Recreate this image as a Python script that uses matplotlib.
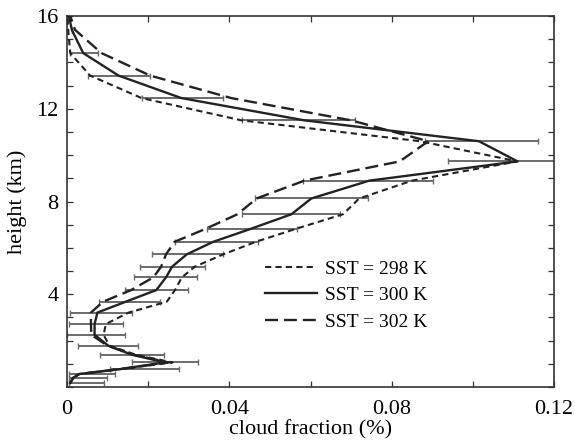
import matplotlib
matplotlib.use("Agg")
import matplotlib.pyplot as plt
from matplotlib.ticker import MultipleLocator, FixedLocator, FuncFormatter

plt.rcParams['font.family'] = ['Liberation Serif', 'DejaVu Serif']

# model levels (km)
height = [0.17, 0.39, 0.56, 0.77, 1.06, 1.39, 1.78, 2.25, 2.72, 3.21, 3.68, 4.18,
          4.73, 5.19, 5.72, 6.26, 6.81, 7.45, 8.13, 8.90, 9.73, 10.6, 11.5, 12.46,
          13.43, 14.4, 15.4, 16.4]

# cloud fraction (%)
cf_298 = [0.0008, 0.0015, 0.0030, 0.0130, 0.0260, 0.0170, 0.0105, 0.0090, 0.0096,
          0.0152, 0.0246, 0.0266, 0.0283, 0.0315, 0.0385, 0.0465, 0.0562, 0.0680,
          0.0720, 0.0850, 0.1110, 0.0870, 0.0430, 0.0184, 0.0057, 0.0008, 0.0003, 0.0]
cf_300 = [0.0008, 0.0015, 0.0030, 0.0130, 0.0242, 0.0160, 0.0102, 0.0068, 0.0068,
          0.0075, 0.0145, 0.0220, 0.0244, 0.0259, 0.0295, 0.0360, 0.0451, 0.0553,
          0.0602, 0.0745, 0.1110, 0.1015, 0.0585, 0.0282, 0.0127, 0.0040, 0.0012, 0.0]
cf_302 = [0.0008, 0.0015, 0.0030, 0.0130, 0.0250, 0.0165, 0.0100, 0.0060, 0.0059,
          0.0059, 0.0089, 0.0158, 0.0213, 0.0232, 0.0244, 0.0265, 0.0340, 0.0420,
          0.0467, 0.0585, 0.0820, 0.0890, 0.0700, 0.0405, 0.0205, 0.0085, 0.0020, 0.0]

# error bar extents for SST = 300 K (lower / upper end)
err_lo = [0.0004, 0.0004, 0.0004, 0.0106, 0.0160, 0.0082, 0.0028, 0.0000, 0.0004,
          0.0008, 0.0078, 0.0143, 0.0164, 0.0180, 0.0209, 0.0265, 0.0345, 0.0431,
          0.0463, 0.0582, 0.0939, 0.0882, 0.0431, 0.0184, 0.0051, 0.0008, 0.0012, 0.0]
err_hi = [0.0090, 0.0098, 0.0118, 0.0275, 0.0324, 0.0238, 0.0176, 0.0143, 0.0139,
          0.0160, 0.0230, 0.0299, 0.0320, 0.0340, 0.0385, 0.0470, 0.0566, 0.0673,
          0.0741, 0.0902, 0.1280, 0.1161, 0.0710, 0.0385, 0.0205, 0.0077, 0.0012, 0.0]

labels = ['SST = 298 K', 'SST = 300 K', 'SST = 302 K']

fig = plt.figure(figsize=(5.75, 4.42), dpi=100)
ax = fig.add_axes([0.1165, 0.1244, 0.847, 0.8394])

xerr = [[c - lo for c, lo in zip(cf_300, err_lo)],
        [hi - c for c, hi in zip(cf_300, err_hi)]]
ax.errorbar(cf_300, height, xerr=xerr, fmt='none', ecolor='#6a6a6a',
            elinewidth=1.4, capsize=2, capthick=1.0, zorder=2)

l1, = ax.plot(cf_298, height, color='#222222', lw=1.5, ls=(0, (3.0, 2.0)), zorder=3)
l2, = ax.plot(cf_300, height, color='#222222', lw=1.7, ls='-', zorder=3)
l3, = ax.plot(cf_302, height, color='#222222', lw=1.7, ls=(0, (5.5, 2.5)), zorder=3)

ax.set_xlim(0, 0.12)
ax.set_ylim(0, 16)
ax.xaxis.set_major_locator(FixedLocator([0, 0.04, 0.08, 0.12]))
ax.xaxis.set_minor_locator(MultipleLocator(0.02))
ax.yaxis.set_major_locator(FixedLocator([4, 8, 12, 16]))
ax.yaxis.set_minor_locator(MultipleLocator(1))
ax.xaxis.set_major_formatter(FuncFormatter(lambda v, p: '0' if v == 0 else f'{v:.2f}'))
ax.yaxis.set_major_formatter(FuncFormatter(lambda v, p: f'{int(v)}'))

ax.tick_params(which='both', direction='in', top=True, right=True,
               length=4, width=0.9, color='#333333', labelsize=16)
ax.tick_params(axis='x', pad=9)
ax.tick_params(axis='y', pad=6)
for s in ax.spines.values():
    s.set_linewidth(1.2)
    s.set_color('#333333')

ax.set_xlabel('cloud fraction (%)', fontsize=16, labelpad=1)
ax.set_ylabel('height (km)', fontsize=16, labelpad=7)

ax.legend([l1, l2, l3], labels, loc='upper left', bbox_to_anchor=(0.386, 0.368),
          frameon=False, fontsize=14, handlelength=2.7, handletextpad=0.4,
          labelspacing=0.45, borderpad=0)

fig.savefig('out.png', dpi=100)
